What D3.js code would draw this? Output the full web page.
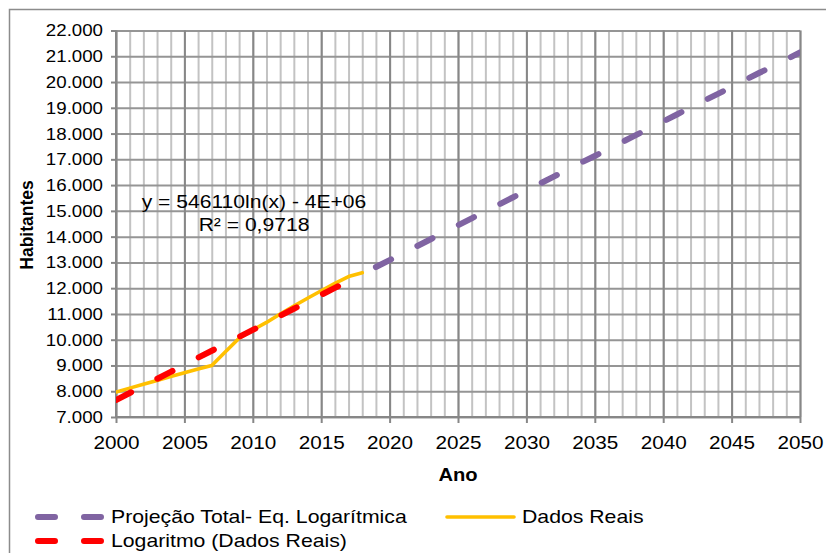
<!DOCTYPE html>
<html>
<head>
<meta charset="utf-8">
<script src="https://cdn.jsdelivr.net/npm/d3@7/dist/d3.min.js"></script>
<style>
  body { margin: 0; background: #fff; }
  svg text { font-family: "Liberation Sans", Arial, sans-serif; fill: #000; }
</style>
</head>
<body>
<svg id="chart" width="826" height="553"></svg>
<script>
// Dados Reais (population)
var realYears = [2000, 2001, 2002, 2003, 2004, 2005, 2006, 2007, 2008, 2009,
                 2010, 2011, 2012, 2013, 2014, 2015, 2016, 2017, 2018];
var realPop = [7970, 8120, 8270, 8420, 8570, 8720, 8860, 9000, 9530, 10060,
               10380, 10670, 11000, 11310, 11610, 11900, 12190, 12450, 12600];

// Logaritmo (Dados Reais) - trendline as drawn
var trendYears = realYears;
var trendPop = [7660, 7930, 8210, 8480, 8750, 9020, 9300, 9570, 9840, 10110,
                10380, 10660, 10930, 11200, 11470, 11740, 12010, 12280, 12550];

// Projeção Total - Eq. Logarítmica
var projYears = [2019, 2020, 2021, 2022, 2023, 2024, 2025, 2026, 2027, 2028,
                 2029, 2030, 2031, 2032, 2033, 2034, 2035, 2036, 2037, 2038,
                 2039, 2040, 2041, 2042, 2043, 2044, 2045, 2046, 2047, 2048,
                 2049, 2050];
var projPop = [12820, 13090, 13360, 13630, 13900, 14170, 14440, 14710, 14980, 15250,
               15520, 15790, 16060, 16330, 16600, 16870, 17130, 17400, 17670, 17940,
               18210, 18470, 18740, 19010, 19280, 19540, 19810, 20080, 20350, 20610,
               20880, 21150];

// tick labels
var xTicks = [2000, 2005, 2010, 2015, 2020, 2025, 2030, 2035, 2040, 2045, 2050];
var xMinor = d3.range(2000, 2051, 1);
var yTicks = [7000, 8000, 9000, 10000, 11000, 12000, 13000, 14000, 15000,
              16000, 17000, 18000, 19000, 20000, 21000, 22000];

var equationText = "y = 546110ln(x) - 4E+06";
var r2Text = "R\u00b2 = 0,9718";

var plot = {left: 116, right: 800, top: 30.5, bottom: 417};

var svg = d3.select("#chart");

var ptBR = d3.formatLocale({decimal: ",", thousands: ".", grouping: [3], currency: ["R$", ""]});
var fmt = ptBR.format(",.0f");

// scales
var x = d3.scaleLinear().domain([2000, 2050]).range([plot.left, plot.right]);
var y = d3.scaleLinear().domain([7000, 22000]).range([plot.bottom, plot.top]);

// outer chart border
svg.append("rect")
  .attr("x", 9.5).attr("y", 9.5)
  .attr("width", 840).attr("height", 570)
  .attr("fill", "none")
  .attr("stroke", "#8c8c8c")
  .attr("stroke-width", 1.5);

var plotH = plot.bottom - plot.top;
var plotW = plot.right - plot.left;

// minor vertical gridlines (every year)
svg.append("g")
  .attr("transform", `translate(0,${plot.bottom})`)
  .call(d3.axisBottom(x).tickValues(xMinor).tickSize(-plotH).tickFormat(""))
  .call(g => g.select(".domain").remove())
  .selectAll("line").attr("stroke", "#c3c3c3").attr("stroke-width", 2);

// horizontal gridlines
svg.append("g")
  .attr("transform", `translate(${plot.left},0)`)
  .call(d3.axisLeft(y).tickValues(yTicks).tickSize(-plotW).tickFormat(""))
  .call(g => g.select(".domain").remove())
  .selectAll("line").attr("stroke", "#959595").attr("stroke-width", 2);

// major vertical gridlines (every 5 years)
svg.append("g")
  .attr("transform", `translate(0,${plot.bottom})`)
  .call(d3.axisBottom(x).tickValues(xTicks).tickSize(-plotH).tickFormat(""))
  .call(g => g.select(".domain").remove())
  .selectAll("line").attr("stroke", "#878787").attr("stroke-width", 2);

// y axis
var yAxis = svg.append("g")
  .attr("transform", `translate(${plot.left},0)`)
  .call(d3.axisLeft(y).tickValues(yTicks).tickSize(5).tickPadding(0).tickFormat(fmt));
yAxis.select(".domain").attr("stroke", "#878787").attr("stroke-width", 2)
  .attr("d", `M0,${plot.bottom}V${plot.top}`);
yAxis.selectAll(".tick line").attr("stroke", "#878787").attr("stroke-width", 2);
yAxis.selectAll(".tick text")
  .style("font-size", "17px")
  .attr("x", -13 / 1.1)
  .attr("transform", "scale(1.1,1)");

// x axis
var xAxis = svg.append("g")
  .attr("transform", `translate(0,${plot.bottom})`)
  .call(d3.axisBottom(x).tickValues(xTicks).tickSize(6).tickFormat(d3.format("d")));
xAxis.select(".domain").attr("stroke", "#878787").attr("stroke-width", 2)
  .attr("d", `M${plot.left},0H${plot.right}`);
xAxis.selectAll(".tick line").attr("stroke", "#878787").attr("stroke-width", 2);
xAxis.selectAll(".tick text")
  .style("font-size", "18px")
  .attr("y", 19)
  .attr("transform", "scale(1.15,1)");

// clip for series
svg.append("clipPath").attr("id", "plotClip")
  .append("rect")
  .attr("x", plot.left).attr("y", plot.top - 10)
  .attr("width", plotW).attr("height", plotH + 10);

var line = d3.line()
  .x(d => x(d[0]))
  .y(d => y(d[1]));

var series = svg.append("g").attr("clip-path", "url(#plotClip)");

// projection (purple dashed)
series.append("path")
  .datum(d3.zip(projYears, projPop))
  .attr("d", line)
  .attr("fill", "none")
  .attr("stroke", "#8064a2")
  .attr("stroke-width", 6)
  .attr("stroke-linecap", "round")
  .attr("stroke-dasharray", "17,29.5");

// real data (yellow)
series.append("path")
  .datum(d3.zip(realYears, realPop))
  .attr("d", line)
  .attr("fill", "none")
  .attr("stroke", "#ffc000")
  .attr("stroke-width", 3.6)
  .attr("stroke-linejoin", "round")
  .attr("stroke-linecap", "round");

// log trendline (red dashed)
series.append("path")
  .datum(d3.zip(trendYears, trendPop))
  .attr("d", line)
  .attr("fill", "none")
  .attr("stroke", "#ff0000")
  .attr("stroke-width", 6)
  .attr("stroke-linecap", "round")
  .attr("stroke-dasharray", "17,29.5");

// stretched text helper
function addText(str, tx, ty, size, k, anchor, weight) {
  return svg.append("text")
    .attr("transform", `translate(${tx},${ty}) scale(${k},1)`)
    .attr("text-anchor", anchor)
    .attr("dy", "0.35em")
    .style("font-size", size + "px")
    .style("font-weight", weight || "normal")
    .text(str);
}

// trendline equation
addText(equationText, 254, 202, 18.5, 1.14, "middle");
addText(r2Text, 254, 225, 18.5, 1.14, "middle");

// axis titles
addText("Ano", 458, 475, 18, 1.12, "middle", "bold");
svg.append("text")
  .attr("transform", "translate(27,225) rotate(-90)")
  .attr("text-anchor", "middle")
  .attr("dy", "0.35em")
  .style("font-size", "17.5px")
  .style("font-weight", "bold")
  .text("Habitantes");

// legend
var legendItems = [
  {name: "Proje\u00e7\u00e3o Total- Eq. Logar\u00edtmica", color: "#8064a2", dash: "17,29", w: 6, x0: 38, x1: 101, tx: 111, ty: 517},
  {name: "Dados Reais", color: "#ffc000", dash: null, w: 3.6, x0: 447, x1: 514, tx: 522, ty: 517},
  {name: "Logaritmo (Dados Reais)", color: "#ff0000", dash: "17,29", w: 6, x0: 38, x1: 101, tx: 111, ty: 541}
];

legendItems.forEach(function(item) {
  svg.append("path")
    .attr("d", `M${item.x0},${item.ty}H${item.x1}`)
    .attr("stroke", item.color)
    .attr("stroke-width", item.w)
    .attr("stroke-linecap", "round")
    .attr("stroke-dasharray", item.dash);
  addText(item.name, item.tx, item.ty, 18, 1.18, "start");
});
</script>
</body>
</html>
